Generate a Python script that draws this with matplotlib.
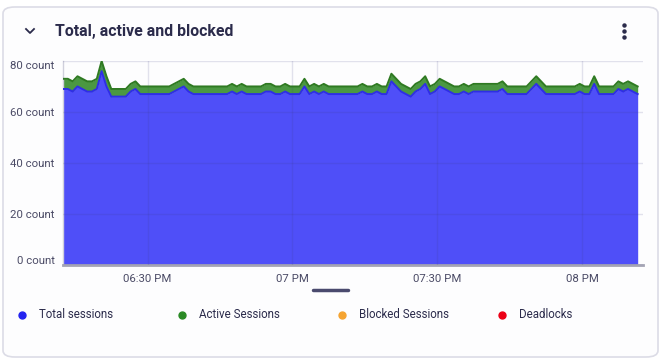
import pandas as pd
import matplotlib
matplotlib.use("Agg")
import matplotlib.pyplot as plt
import matplotlib.dates as mdates
from matplotlib.patches import FancyBboxPatch
from matplotlib.lines import Line2D
from matplotlib.ticker import FuncFormatter, FixedLocator

plt.rcParams['font.family'] = ['Roboto', 'DejaVu Sans']

# ---- data (one point per minute) ----
times = pd.date_range("2024-01-01 18:12:30", periods=120, freq="min")
total_sessions = [69, 69, 68, 70, 69, 68, 68, 69, 76, 70,
                  66, 66, 66, 66, 68, 69, 67, 67, 67, 67,
                  67, 67, 67, 68, 69, 70, 68, 67, 67, 67,
                  67, 67, 67, 67, 67, 68, 67, 68, 67, 67,
                  67, 67, 68, 68, 67, 67, 68, 67, 67, 67,
                  70, 67, 68, 67, 68, 67, 67, 67, 67, 67,
                  67, 67, 68, 67, 67, 68, 67, 67, 72, 70,
                  68, 67, 66, 68, 69, 71, 67, 68, 70, 69,
                  68, 67, 67, 68, 67, 68, 68, 68, 68, 68,
                  68, 69, 67, 67, 67, 67, 67, 69, 71, 69,
                  67, 67, 67, 67, 67, 67, 67, 68, 67, 67,
                  71, 67, 67, 67, 67, 69, 68, 69, 68, 67]
active_sessions = [4] * 10 + [3] * 110
blocked_sessions = [0] * 120
deadlocks = [0] * 120

tick_times = pd.to_datetime(["2024-01-01 18:30", "2024-01-01 19:00",
                             "2024-01-01 19:30", "2024-01-01 20:00"])
y_ticks = [0, 20, 40, 60, 80]
legend_names = ["Total sessions", "Active Sessions", "Blocked Sessions", "Deadlocks"]
legend_colors = ["#2323f0", "#2a8a25", "#f5a431", "#ec0016"]

W, H = 661, 359
def fx(x): return x / W
def fy(y): return 1 - y / H

fig = plt.figure(figsize=(W / 100, H / 100), dpi=100)
fig.patch.set_facecolor("white")

# card
card = FancyBboxPatch((fx(3), fy(357)), fx(655), 350 / H,
                      boxstyle="round,pad=0,rounding_size=0.018",
                      transform=fig.transFigure, facecolor="#fdfdfe",
                      edgecolor="#dcdce6", linewidth=1.2, zorder=0)
fig.add_artist(card)

# header
fig.add_artist(Line2D([fx(26), fx(30), fx(34)], [fy(29), fy(33), fy(29)],
                      transform=fig.transFigure, color="#2b2b4b", lw=1.3))
fig.text(fx(55), fy(31.5), "Total, active and blocked", fontsize=11.4, fontweight="bold",
         color="#2b2b4b", va="center", ha="left")
for yy in (25, 31, 37):
    fig.add_artist(Line2D([fx(624)], [fy(yy)], transform=fig.transFigure,
                          marker="o", markersize=2.2, color="#2b2b4b", lw=0))

# chart
ax = fig.add_axes([fx(63), fy(264.5), (643 - 63) / W, (264.5 - 61) / H])
ax.set_facecolor("none")
top = [t + a for t, a in zip(total_sessions, active_sessions)]
ax.fill_between(times, 0, total_sessions, color="#4f4ff8", lw=0, zorder=2)
ax.fill_between(times, total_sessions, top, color="#4b9842", lw=0, zorder=2)
ax.plot(times, top, color="#2f7a22", lw=1.4, zorder=3)
ax.plot(times, total_sessions, color="#2e2ee6", lw=1.4, zorder=3)
ax.plot(times, blocked_sessions, color="#f5a431", lw=0, zorder=1)

ax.set_ylim(0, 80)
ax.set_xlim(times[0], pd.Timestamp("2024-01-01 20:12:36"))
ax.yaxis.set_major_locator(FixedLocator(y_ticks))
ax.yaxis.set_major_formatter(FuncFormatter(lambda v, p: f"{int(v)} count"))
ax.xaxis.set_major_locator(FixedLocator(mdates.date2num(tick_times)))

def fmt_time(v, p):
    d = mdates.num2date(v)
    return d.strftime("%I:%M %p") if d.minute else d.strftime("%I %p")
ax.xaxis.set_major_formatter(FuncFormatter(fmt_time))

ax.grid(True, color="#3c3c80", alpha=0.14, lw=1, zorder=4)
ax.set_axisbelow(False)
for s in ("top", "right"):
    ax.spines[s].set_visible(False)
ax.spines["left"].set_color("#d0d0dc")
ax.spines["left"].set_linewidth(1)
ax.spines["bottom"].set_color("#a4a4b4")
ax.spines["bottom"].set_linewidth(2)
ax.tick_params(length=0, labelsize=8.2, colors="#4b4b66", pad=6)
ax.tick_params(axis="x", pad=7)
labels = ax.get_yticklabels()
labels[0].set_va("baseline")
labels[-1].set_va("top")

# scroll handle
fig.add_artist(Line2D([fx(313), fx(348)], [fy(290), fy(290)],
                      transform=fig.transFigure, color="#4a4a6e", lw=2.5,
                      solid_capstyle="round"))

# legend
for i, (name, col) in enumerate(zip(legend_names, legend_colors)):
    x0 = 22 + 160 * i
    fig.add_artist(Line2D([fx(x0)], [fy(315)], transform=fig.transFigure,
                          marker="o", markersize=5, color=col, lw=0))
    fig.text(fx(x0 + 17), fy(315), name, fontsize=8.3, color="#2b2b4b",
             va="center", ha="left")

fig.savefig("out.png", dpi=100)
